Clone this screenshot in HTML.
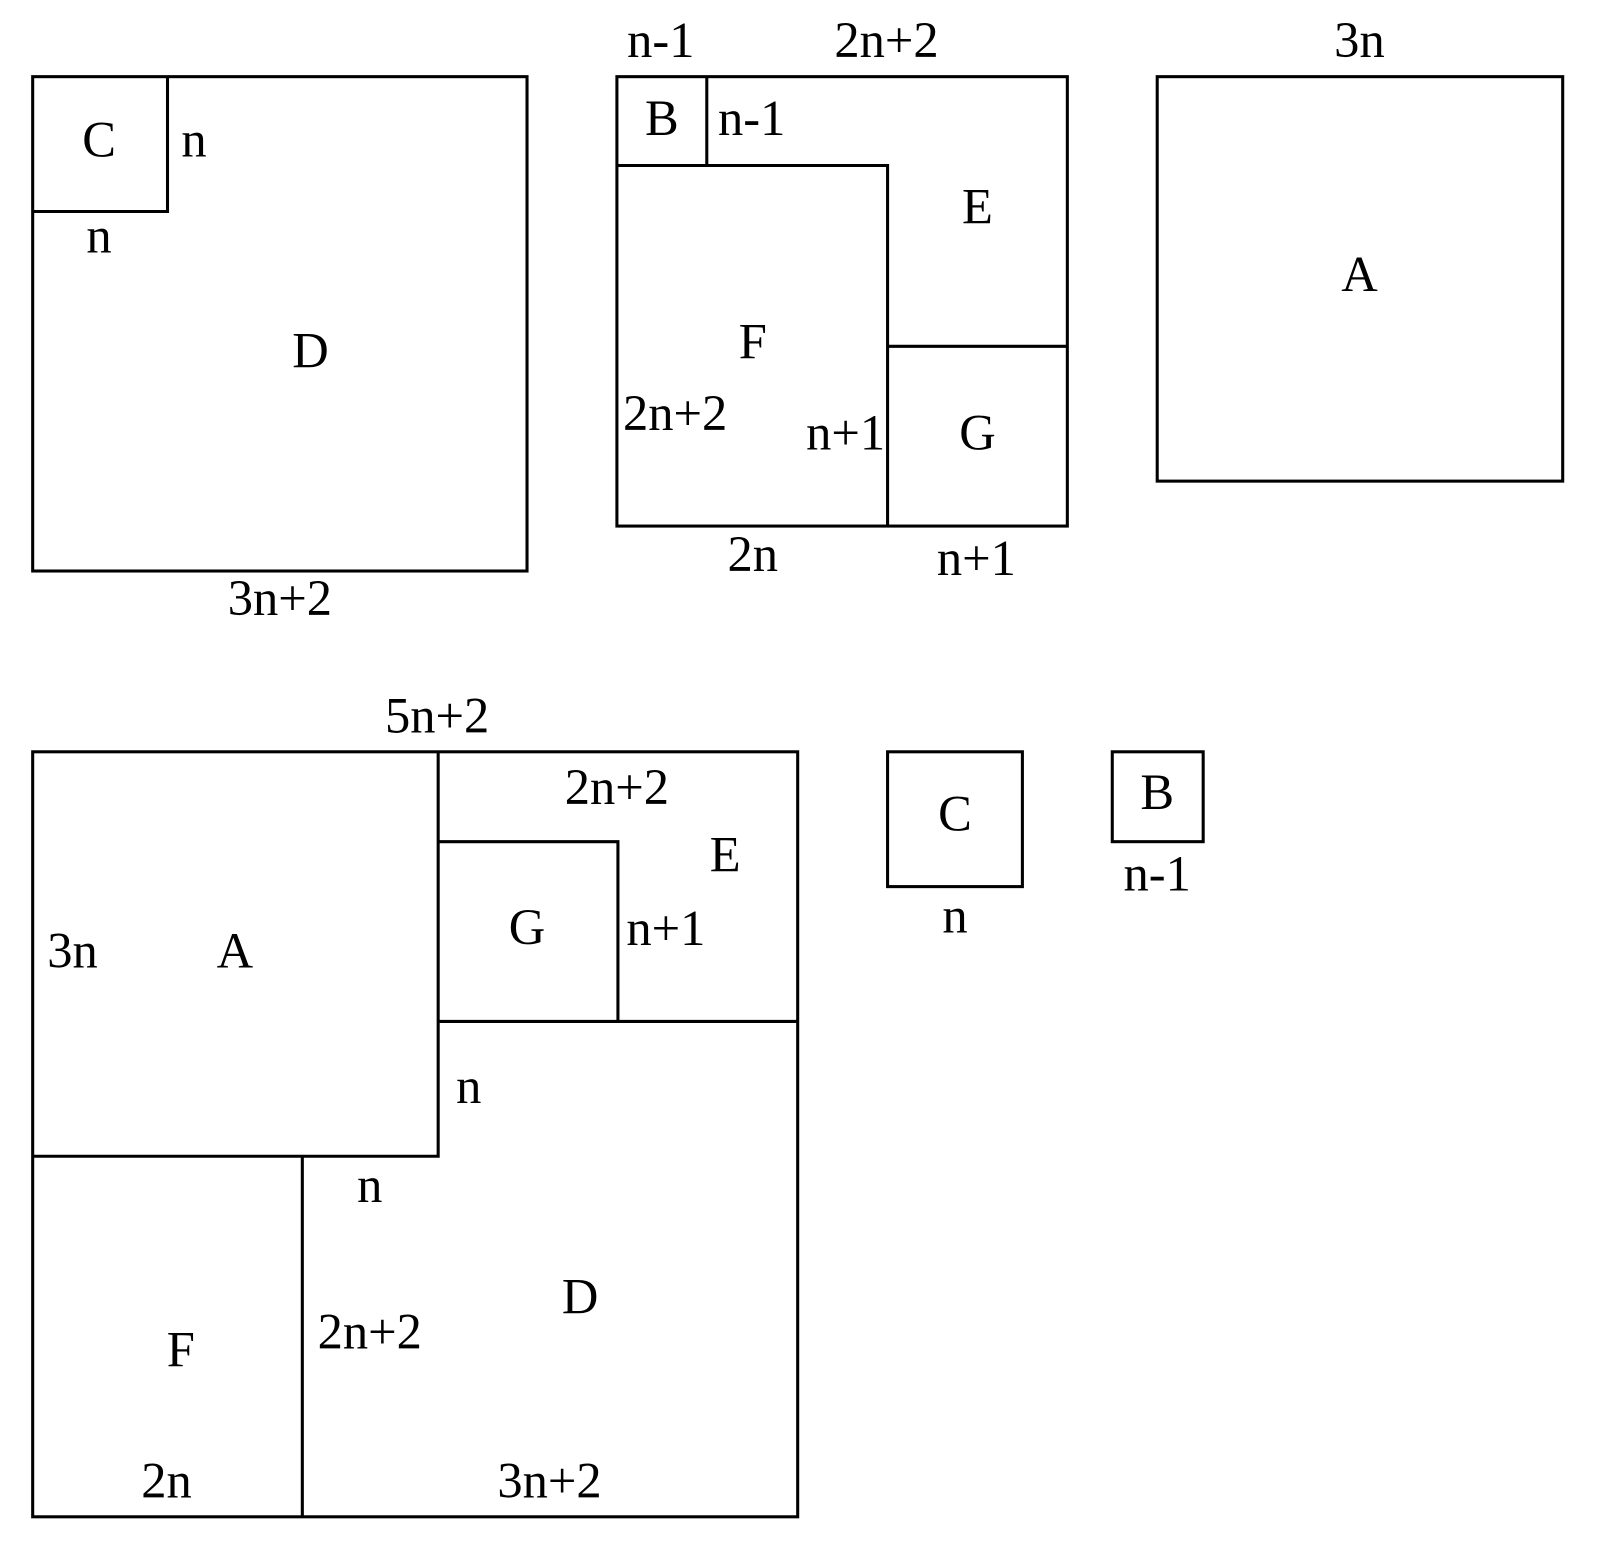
<!DOCTYPE html>
<html><head><meta charset="utf-8"><style>html,body{margin:0;padding:0;background:#fff}svg{display:block}</style></head>
<body>
<svg width="1601" height="1557" viewBox="0 0 1567.5 1524.3" xmlns="http://www.w3.org/2000/svg">
<g fill="none" stroke="#000" stroke-width="3">
<rect x="32" y="75" width="484" height="484"/>
<polyline points="32,207 164,207 164,75"/>
<rect x="604" y="75" width="441" height="440"/>
<polyline points="604,162 692,162 692,75"/>
<polyline points="692,162 869,162 869,515"/>
<line x1="869" y1="339" x2="1045" y2="339"/>
<rect x="1133" y="75" width="397" height="396"/>
<rect x="32" y="736" width="749" height="749"/>
<polyline points="32,1132 429,1132 429,736"/>
<polyline points="429,824 605,824 605,1000"/>
<line x1="429" y1="1000" x2="781" y2="1000"/>
<line x1="296" y1="1132" x2="296" y2="1485"/>
<rect x="869" y="736" width="132" height="132"/>
<rect x="1089" y="736" width="89" height="88"/>
</g>
<g font-family="Liberation Serif, serif" font-size="49.5" text-anchor="middle" fill="#000">
<text x="647" y="56">n-1</text>
<text x="868" y="56">2n+2</text>
<text x="1331" y="56">3n</text>
<text x="97" y="153">C</text>
<text x="190" y="153">n</text>
<text x="97" y="247">n</text>
<text x="304" y="360">D</text>
<text x="274" y="602">3n+2</text>
<text x="648" y="132">B</text>
<text x="736" y="132">n-1</text>
<text x="957" y="219">E</text>
<text x="737" y="351">F</text>
<text x="661" y="421">2n+2</text>
<text x="828" y="440">n+1</text>
<text x="957" y="440">G</text>
<text x="737" y="559">2n</text>
<text x="956" y="563">n+1</text>
<text x="1331" y="285">A</text>
<text x="428" y="717">5n+2</text>
<text x="604" y="787">2n+2</text>
<text x="710" y="853">E</text>
<text x="516" y="924">G</text>
<text x="652" y="925">n+1</text>
<text x="71" y="947">3n</text>
<text x="230" y="947">A</text>
<text x="459" y="1080">n</text>
<text x="362" y="1177">n</text>
<text x="568" y="1286">D</text>
<text x="362" y="1320">2n+2</text>
<text x="177" y="1338">F</text>
<text x="163" y="1466">2n</text>
<text x="538" y="1466">3n+2</text>
<text x="935" y="813">C</text>
<text x="935" y="913">n</text>
<text x="1133" y="792">B</text>
<text x="1133" y="872">n-1</text>
</g>
</svg>
</body></html>
